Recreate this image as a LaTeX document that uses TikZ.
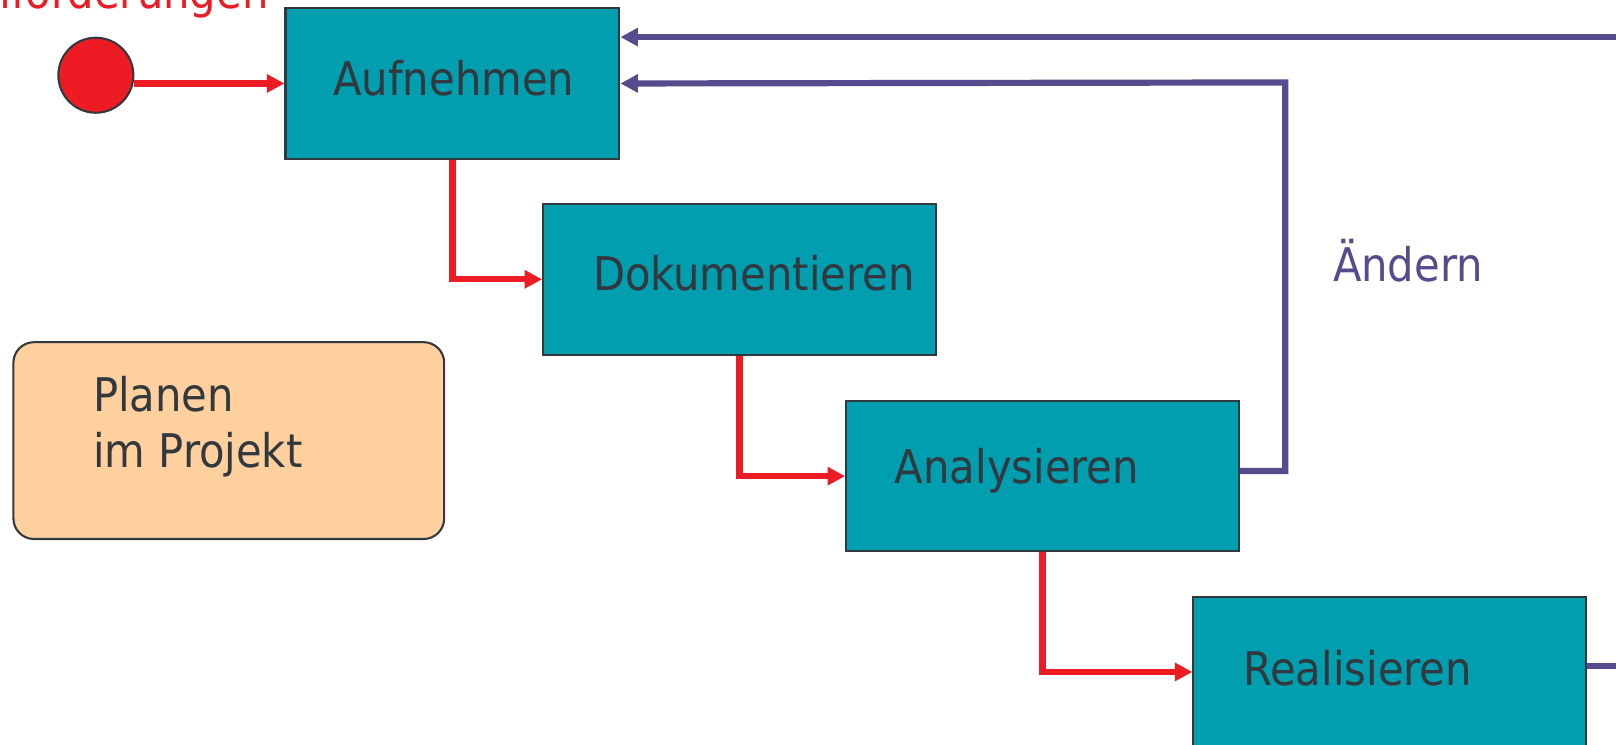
\documentclass[tikz,border=0pt]{standalone}
\usepackage{fontspec}
\setmainfont{DejaVu Sans Condensed}
\usetikzlibrary{arrows.meta}
\definecolor{tealbox}{RGB}{0,158,174}
\definecolor{txtc}{RGB}{51,55,62}
\definecolor{redc}{RGB}{237,28,36}
\definecolor{purpc}{RGB}{84,76,140}
\definecolor{peach}{RGB}{253,208,158}
\tikzset{
  procbox/.style={draw=txtc, line width=1pt, fill=tealbox, anchor=north west, inner sep=0pt, minimum width=190.5pt, minimum height=73pt},
  lbl/.style={text=txtc, font=\fontsize{22.5}{27.5}\selectfont, inner sep=0pt, anchor=west},
  redarrow/.style={draw=redc, line width=3pt, -{Triangle[length=8.5pt,width=8.5pt]}},
  purparrow/.style={draw=purpc, line width=3pt, -{Triangle[length=8.5pt,width=8.5pt]}},
  purpline/.style={draw=purpc, line width=3pt},
}
\begin{document}
\begin{tikzpicture}[x=0.5pt,y=-0.5pt]
\useasboundingbox (0,0) rectangle (1568,722);
\clip (0,0) rectangle (1568,722);
% boxes
\node[procbox, minimum width=162pt] (a) at (276,7) {};
\node[procbox] (d) at (526,197) {};
\node[procbox] (n) at (820,388) {};
\node[procbox, minimum height=100pt] (r) at (1157,578) {};
\node[draw=txtc, line width=1pt, fill=peach, rounded corners=10pt, anchor=north west, inner sep=0pt, minimum width=209pt, minimum height=95.5pt] (p) at (12,331) {};
\node[circle, draw=txtc, line width=1pt, fill=redc, minimum size=36.4pt, inner sep=0pt] (c) at (93,73) {};
% texts
\node[lbl] (ta) at (323,76) {Aufnehmen};
\node[lbl] (td) at (575,265) {Dokumentieren};
\node[lbl] (tn) at (868,457) {Analysieren};
\node[lbl] (tr) at (1206,648) {Realisieren};
\node[lbl, align=left] (tp) at (90,414) {Planen\\im Projekt};
\node[lbl, text=purpc] (tae) at (1293,253) {Ändern};
\node[lbl, text=redc, anchor=base east] (tan) at (261,8.7) {Anforderungen};
% coordinates
\coordinate (topr) at (1580,36);
\coordinate (c1) at (1247,80);
\coordinate (rin) at (1157,652);
\coordinate (rend) at (1580,646);
% red connectors
\draw[redarrow] (c.east |- a.west) -- (a.west);
\draw[redarrow] (a.south) |- (d.west);
\draw[redarrow] (d.south) |- (n.west);
\draw[redarrow] (n.south) |- (rin);
% purple connectors
\draw[purparrow] (topr) -- (topr -| a.east);
\draw[purparrow] ([yshift=2.5pt]n.east) -| (c1) -- (a.east);
\draw[purpline] ([yshift=-34pt]r.north east) -- (rend);
\end{tikzpicture}
\end{document}
